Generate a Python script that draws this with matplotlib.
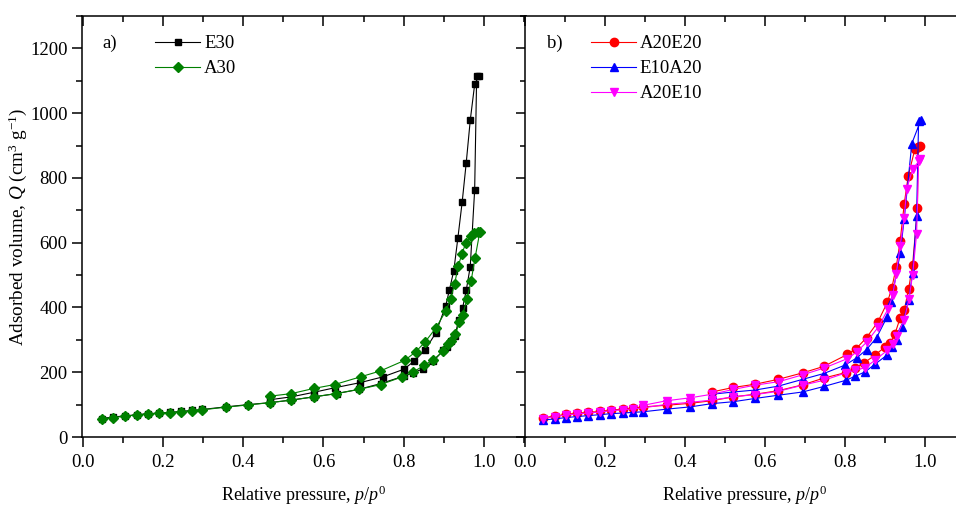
import matplotlib as mpl
import matplotlib.pyplot as plt
from matplotlib.ticker import MultipleLocator

# ---- data: relative pressure p/p0 and adsorbed volume Q (cm3 g-1) ----
# panel a) E30: adsorption then desorption
e30_ads_p = [0.047, 0.076, 0.105, 0.134, 0.163, 0.190, 0.217, 0.244, 0.272, 0.298,
             0.356, 0.412, 0.466, 0.520, 0.576, 0.633, 0.688, 0.743, 0.800, 0.824,
             0.849, 0.874, 0.899, 0.907, 0.917, 0.928, 0.937, 0.947, 0.956, 0.966,
             0.977, 0.982]
e30_ads_q = [57, 62, 65, 69, 72, 74, 76, 79, 82, 85,
             93, 100, 106, 114, 124, 134, 147, 165, 188, 198,
             211, 234, 268, 278, 296, 312, 362, 399, 453, 526,
             763, 1114]
e30_des_p = [0.987, 0.977, 0.966, 0.956, 0.946, 0.935, 0.925, 0.914, 0.905, 0.880,
             0.853, 0.826, 0.800, 0.749, 0.692, 0.628, 0.576, 0.520, 0.466]
e30_des_q = [1115, 1089, 978, 847, 727, 613, 514, 454, 406, 321,
             268, 234, 209, 186, 168, 152, 138, 124, 115]

# panel a) A30
a30_ads_p = [0.047, 0.076, 0.105, 0.134, 0.163, 0.190, 0.217, 0.244, 0.272, 0.298,
             0.356, 0.412, 0.466, 0.520, 0.576, 0.631, 0.688, 0.743, 0.797, 0.824,
             0.851, 0.874, 0.899, 0.911, 0.919, 0.929, 0.939, 0.947, 0.958, 0.968,
             0.978, 0.990]
a30_ads_q = [55, 60, 64, 68, 71, 73, 75, 78, 81, 84,
             92, 99, 106, 114, 124, 134, 147, 162, 186, 201,
             221, 239, 265, 288, 295, 317, 355, 377, 427, 481,
             553, 634]
a30_des_p = [0.985, 0.976, 0.968, 0.955, 0.945, 0.936, 0.927, 0.917, 0.905, 0.880,
             0.853, 0.830, 0.803, 0.742, 0.693, 0.628, 0.576, 0.520, 0.466]
a30_des_q = [634, 629, 621, 599, 565, 527, 473, 426, 389, 336,
             293, 263, 237, 204, 186, 162, 150, 134, 126]

# panel b) shared low-pressure grid
low_p = [0.044, 0.075, 0.103, 0.129, 0.158, 0.188, 0.214, 0.244, 0.271, 0.296,
         0.354, 0.413, 0.467, 0.521, 0.575, 0.633, 0.694, 0.747, 0.802]

# A20E20
a20e20_ads_p = low_p + [0.826, 0.848, 0.874, 0.900, 0.913, 0.925, 0.938, 0.948, 0.959,
                        0.969, 0.981, 0.983]
a20e20_ads_q = [59, 65, 70, 73, 76, 79, 83, 86, 89, 93,
                98, 104, 112, 124, 132, 143, 161, 182, 199,
                214, 229, 252, 278, 290, 319, 368, 391, 457,
                531, 706, 895]
a20e20_des_p = [0.987, 0.975, 0.958, 0.948, 0.938, 0.928, 0.917, 0.906, 0.882, 0.854,
                0.828, 0.806, 0.747, 0.694, 0.633, 0.575, 0.521, 0.467]
a20e20_des_q = [898, 890, 806, 719, 606, 524, 460, 416, 355, 307,
                273, 255, 218, 198, 178, 163, 153, 139]

# E10A20
e10a20_ads_p = low_p + [0.826, 0.850, 0.875, 0.904, 0.917, 0.929, 0.942, 0.959, 0.969,
                        0.979, 0.984]
e10a20_ads_q = [52, 56, 60, 63, 66, 69, 72, 74, 76, 78,
                86, 93, 103, 109, 119, 129, 139, 156, 175,
                188, 201, 225, 252, 278, 298, 339, 422, 506,
                683, 975]
e10a20_des_p = [0.990, 0.967, 0.948, 0.938, 0.915, 0.905, 0.879, 0.854, 0.829, 0.800,
                0.747, 0.694, 0.633, 0.575, 0.521, 0.467]
e10a20_des_q = [980, 906, 673, 567, 416, 370, 307, 270, 244, 222,
                196, 178, 157, 145, 139, 132]

# A20E10
a20e10_ads_p = low_p + [0.826, 0.850, 0.875, 0.906, 0.919, 0.929, 0.948, 0.960, 0.969,
                        0.979, 0.984]
a20e10_ads_q = [57, 63, 68, 71, 74, 77, 81, 84, 87, 90,
                101, 107, 114, 124, 131, 141, 160, 175, 198,
                206, 214, 237, 268, 288, 311, 362, 427, 501,
                627, 852]
a20e10_des_p = [0.988, 0.969, 0.954, 0.948, 0.938, 0.928, 0.919, 0.908, 0.883, 0.854,
                0.829, 0.806, 0.748, 0.694, 0.635, 0.575, 0.521, 0.467, 0.413,
                0.354, 0.296]
a20e10_des_q = [857, 827, 765, 676, 591, 502, 437, 396, 339, 293,
                262, 242, 213, 192, 171, 160, 147, 132, 121,
                112, 98]

mpl.rcParams.update(
    {
        "font.family": "Liberation Serif",
        "mathtext.fontset": "custom",
        "mathtext.rm": "Liberation Serif",
        "mathtext.it": "Liberation Serif:italic",
        "font.size": 13,
        "axes.linewidth": 1.1,
        "xtick.labelsize": 13.5,
        "ytick.labelsize": 13.5,
        "legend.fontsize": 13.5,
    }
)

W, H = 956, 509
fig = plt.figure(figsize=(W / 100, H / 100), dpi=100)
ax1 = fig.add_axes([82 / W, (H - 437) / H, 444 / W, 421 / H])
ax2 = fig.add_axes([525 / W, (H - 437) / H, 440 / W, 421 / H])


def isotherm(ax, ads_p, ads_q, des_p, des_q, color, marker, label, ms=5.5):
    ax.plot(ads_p + des_p, ads_q + des_q, color=color, lw=0.8, marker=marker,
            ms=ms, mec=color, mfc=color, label=label)


isotherm(ax1, e30_ads_p, e30_ads_q, e30_des_p, e30_des_q, "black", "s", "E30", ms=5)
isotherm(ax1, a30_ads_p, a30_ads_q, a30_des_p, a30_des_q, "#008000", "D", "A30", ms=5)

isotherm(ax2, a20e20_ads_p, a20e20_ads_q, a20e20_des_p, a20e20_des_q, "#ff0000", "o", "A20E20", ms=6)
isotherm(ax2, e10a20_ads_p, e10a20_ads_q, e10a20_des_p, e10a20_des_q, "#0000ff", "^", "E10A20", ms=6)
isotherm(ax2, a20e10_ads_p, a20e10_ads_q, a20e10_des_p, a20e10_des_q, "#ff00ff", "v", "A20E10", ms=6)

for ax in (ax1, ax2):
    ax.set_ylim(0, 1300)
    ax.xaxis.set_major_locator(MultipleLocator(0.2))
    ax.xaxis.set_minor_locator(MultipleLocator(0.1))
    ax.yaxis.set_major_locator(MultipleLocator(200))
    ax.yaxis.set_minor_locator(MultipleLocator(100))
    ax.xaxis.set_major_formatter(lambda v, pos: f"{v:.1f}")
    ax.tick_params(axis="both", which="major", length=7, width=1.1)
    ax.tick_params(axis="both", which="minor", length=4, width=1.1)
    ax.tick_params(axis="x", which="both", top=True, direction="out", pad=5)
    ax.set_xlabel(r"Relative pressure, $\mathit{p/p^{0}}$", fontsize=13, labelpad=9)
    ax.legend(loc="upper left", frameon=False, handlelength=2.4, handletextpad=0.2,
              labelspacing=0.42, borderaxespad=0.0)

ax1.set_xlim(-0.002, 1.105)
ax2.set_xlim(0, 1.1)

ax1.tick_params(axis="y", which="both", right=True, direction="out")
ax2.tick_params(axis="y", which="both", left=False, labelleft=False)
ax2.spines["right"].set_visible(False)

# mirror ticks point into the frame on top and right
for ax in (ax1, ax2):
    for line in ax.xaxis.get_majorticklines()[1::2] + ax.xaxis.get_minorticklines()[1::2]:
        line.set_marker(mpl.markers.TICKDOWN)
for line in ax1.yaxis.get_majorticklines()[1::2] + ax1.yaxis.get_minorticklines()[1::2]:
    line.set_marker(mpl.markers.TICKLEFT)

ax1.set_ylabel(r"Adsorbed volume, $\mathit{Q}$ (cm$^{3}$ g$^{-1}$)", fontsize=13.8, labelpad=1)

ax1.legend_.set_bbox_to_anchor((0.148, 0.972))
ax2.legend_.set_bbox_to_anchor((0.133, 0.972))

ax1.text(0.045, 0.935, "a)", transform=ax1.transAxes, ha="left", va="center", fontsize=13.5)
ax2.text(0.05, 0.935, "b)", transform=ax2.transAxes, ha="left", va="center", fontsize=13.5)

fig.savefig("out.png", dpi=100)
